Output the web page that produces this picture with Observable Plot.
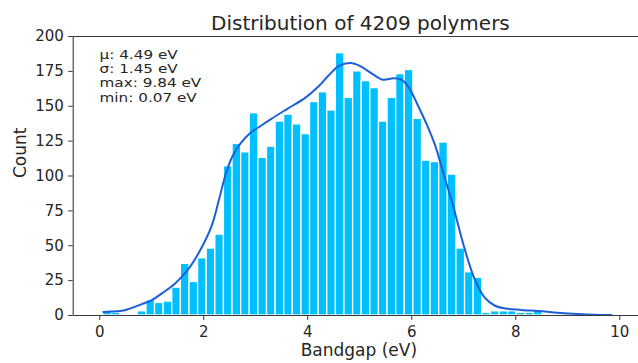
<!DOCTYPE html>
<html>
<head>
<meta charset="utf-8">
<script src="https://cdn.jsdelivr.net/npm/d3@7"></script>
<script src="https://cdn.jsdelivr.net/npm/@observablehq/plot@0.6"></script>
<style>
  html, body { margin: 0; padding: 0; background: #fff; overflow: hidden; }
  svg { display: block; }
</style>
</head>
<body>
<div id="chart"></div>
<script>
// ---- data ----
const titleText = "Distribution of 4209 polymers";
const xLabel = "Bandgap (eV)";
const yLabel = "Count";
const statLines = ["μ: 4.49 eV", "σ: 1.45 eV", "max: 9.84 eV", "min: 0.07 eV"];
const dataMin = 0.07;
const dataMax = 9.84;
const binCount = 59;
const counts = [
  3, 2, 0, 0, 3, 11, 9, 10, 20, 37,
  24, 41, 48, 58, 107, 123, 117, 145, 113, 121,
  139, 144, 137, 130, 153, 160, 147, 188, 156, 175,
  168, 163, 139, 156, 173, 176, 141, 111, 110, 124,
  101, 48, 31, 27, 2, 3, 3, 3, 2, 2,
  4, 0, 0, 0, 0, 0, 0, 0, 1
];
const kdeX = [0.07, 0.3, 0.5, 0.8, 1.0, 1.2, 1.45, 1.7, 1.95, 2.15, 2.3, 2.42, 2.55, 2.7, 2.9, 3.1, 3.3, 3.6, 3.95, 4.2, 4.4, 4.6, 4.82, 5.0, 5.25, 5.45, 5.65, 5.8, 5.95, 6.1, 6.3, 6.45, 6.6, 6.8, 7.0, 7.2, 7.4, 7.6, 7.8, 8.1, 8.5, 8.8, 9.2, 9.5, 9.84];
const kdeY = [2.5, 3, 4, 8, 11, 16, 23, 33, 48, 64, 84, 101, 114, 123, 131, 136, 141, 148, 156, 164, 172, 179, 181, 179, 173, 169, 170, 169, 163, 152, 136, 122, 103, 78, 50, 27, 13, 7, 5, 4, 3, 2, 1, 0.5, 0.3];
const xTicks = [0, 2, 4, 6, 8, 10];
const yTicks = [0, 25, 50, 75, 100, 125, 150, 175, 200];
const xDomain = [-0.51, 10.36];
const yDomain = [0, 200];

// ---- derived tables ----
const binW = (dataMax - dataMin) / binCount;
const bins = counts.map((c, i) => ({x1: dataMin + i * binW, x2: dataMin + (i + 1) * binW, count: c}));
const kde = kdeX.map((x, i) => ({x, y: kdeY[i]}));

const FONT = "DejaVu Sans, sans-serif";
const INK = "#262626";
const SPINE = "#3a3a3a";

const plot = Plot.plot({
  width: 638,
  height: 363,
  marginLeft: 72.7,
  marginRight: 0,
  marginTop: 36,
  marginBottom: 48,
  style: {fontFamily: FONT, color: INK, background: "#fff", overflow: "visible"},
  x: {domain: xDomain, label: null},
  y: {domain: yDomain, label: null},
  marks: [
    Plot.rectY(bins, {x1: "x1", x2: "x2", y: "count", fill: "#00bfff", stroke: "white", strokeWidth: 1.3}),
    Plot.line(kde, {x: "x", y: "y", stroke: "#1c5fd8", strokeWidth: 2, curve: "catmull-rom"}),
    Plot.ruleY([yDomain[0], yDomain[1]], {stroke: SPINE, strokeWidth: 1.1}),
    Plot.ruleX([xDomain[0]], {stroke: SPINE, strokeWidth: 1.1}),
    Plot.axisX({ticks: xTicks, tickSize: 5, tickPadding: 5.8, fontSize: 15, label: null, stroke: SPINE, fill: INK}),
    Plot.axisY({ticks: yTicks, tickSize: 4.5, tickPadding: 4.9, fontSize: 15, label: null, stroke: SPINE, fill: INK}),
    Plot.text([statLines.join("\n")], {frameAnchor: "top-left", textAnchor: "start", lineAnchor: "top", dx: 26.3, dy: 12.0, fontSize: 12.3, lineHeight: 1.165, fill: INK}),
    Plot.text([titleText], {frameAnchor: "top", lineAnchor: "bottom", dx: 4.6, dy: -6.7, fontSize: 20, fill: INK}),
    Plot.text([xLabel], {frameAnchor: "bottom", lineAnchor: "bottom", dx: 3, dy: 40.5, fontSize: 17, fill: INK}),
    Plot.text([yLabel], {frameAnchor: "left", lineAnchor: "bottom", rotate: -90, dx: -47.3, dy: 2, fontSize: 17, fill: INK})
  ]
});
document.getElementById("chart").appendChild(plot);

// horizontally widen the stats block (about its own left edge) to match the reference's wide lettering
const ns = "http://www.w3.org/2000/svg";
Array.from(plot.querySelectorAll("text")).filter(t => t.textContent.includes("max:")).forEach(t => {
  const bb = t.getBBox();
  const m = t.transform.baseVal.consolidate();
  const ax = bb.x + (m ? m.matrix.e : 0);
  const wrap = document.createElementNS(ns, "g");
  wrap.setAttribute("transform", `translate(${ax},0) scale(1.24,1) translate(${-ax},0)`);
  t.parentNode.insertBefore(wrap, t);
  wrap.appendChild(t);
});
</script>
</body>
</html>
